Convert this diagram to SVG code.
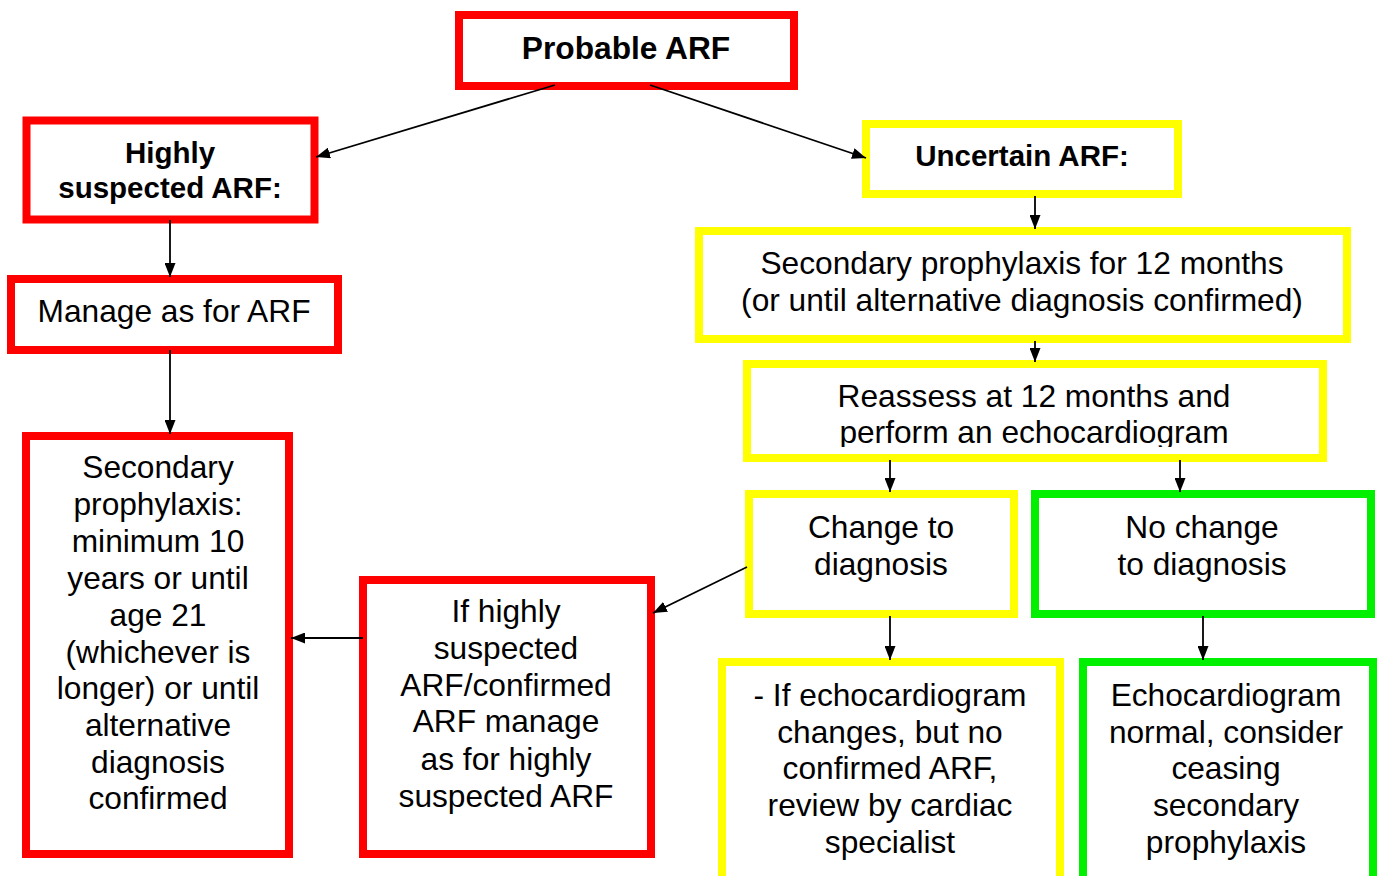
<svg xmlns="http://www.w3.org/2000/svg" width="1377" height="876" viewBox="0 0 1377 876">
<defs>
<style>
.box{fill:#fff;stroke-width:8}
.red{stroke:#ff0000}
.yel{stroke:#ffff00}
.grn{stroke:#00f000}
text{font-family:"Liberation Sans",Arial,sans-serif;font-size:31.7px;fill:#000;text-anchor:middle}
.b{font-weight:bold}
.s{font-size:29.5px}
.conn line{stroke:#000;stroke-width:1.8;marker-end:url(#ah)}
</style>
<marker id="ah" viewBox="0 0 14 11" refX="14" refY="5.5" markerWidth="14" markerHeight="11" markerUnits="userSpaceOnUse" orient="auto">
<path d="M0,0 L14,5.5 L0,11 z" fill="#000"/>
</marker>
<clipPath id="clipR"><rect x="740" y="360" width="600" height="87"/></clipPath>
</defs>
<rect width="1377" height="876" fill="#fff"/>

<g id="probable">
<rect class="box red" x="459" y="15" width="335" height="71"/>
<text class="b" x="626" y="59">Probable ARF</text>
</g>
<g id="highly">
<rect class="box red" x="26.5" y="120.5" width="288" height="99"/>
<text class="b s" x="170" y="163">Highly</text>
<text class="b s" x="170" y="198">suspected ARF:</text>
</g>
<g id="manage">
<rect class="box red" x="11" y="279" width="327" height="71"/>
<text x="174" y="322">Manage as for ARF</text>
</g>
<g id="secondary-left">
<rect class="box red" x="26" y="436" width="263" height="418"/>
<text x="158" y="478">Secondary</text>
<text x="158" y="515">prophylaxis:</text>
<text x="158" y="552">minimum 10</text>
<text x="158" y="589">years or until</text>
<text x="158" y="626">age 21</text>
<text x="158" y="663">(whichever is</text>
<text x="158" y="699">longer) or until</text>
<text x="158" y="736">alternative</text>
<text x="158" y="773">diagnosis</text>
<text x="158" y="809">confirmed</text>
</g>
<g id="ifhighly">
<rect class="box red" x="363" y="580" width="288" height="274"/>
<text x="506" y="622">If highly</text>
<text x="506" y="659">suspected</text>
<text x="506" y="696">ARF/confirmed</text>
<text x="506" y="732">ARF manage</text>
<text x="506" y="770">as for highly</text>
<text x="506" y="807">suspected ARF</text>
</g>
<g id="uncertain">
<rect class="box yel" x="866" y="124" width="312" height="70"/>
<text class="b s" x="1022" y="166">Uncertain ARF:</text>
</g>
<g id="sec12">
<rect class="box yel" x="699" y="231" width="648" height="108"/>
<text x="1022" y="274">Secondary prophylaxis for 12 months</text>
<text x="1022" y="311">(or until alternative diagnosis confirmed)</text>
</g>
<g id="reassess">
<rect class="box yel" x="747" y="364" width="576" height="94"/>
<g clip-path="url(#clipR)">
<text x="1034" y="407">Reassess at 12 months and</text>
<text x="1034" y="443">perform an echocardiogram</text>
</g>
</g>
<g id="change">
<rect class="box yel" x="749" y="494" width="265" height="120"/>
<text x="881" y="538">Change to</text>
<text x="881" y="575">diagnosis</text>
</g>
<g id="nochange">
<rect class="box grn" x="1035" y="494" width="336" height="120"/>
<text x="1202" y="538">No change</text>
<text x="1202" y="575">to diagnosis</text>
</g>
<g id="echo-changes">
<rect class="box yel" x="722" y="662" width="338" height="230"/>
<text x="890" y="706">- If echocardiogram</text>
<text x="890" y="743">changes, but no</text>
<text x="890" y="779">confirmed ARF,</text>
<text x="890" y="816">review by cardiac</text>
<text x="890" y="853">specialist</text>
</g>
<g id="echo-normal">
<rect class="box grn" x="1083" y="662" width="290" height="230"/>
<text x="1226" y="706">Echocardiogram</text>
<text x="1226" y="743">normal, consider</text>
<text x="1226" y="779">ceasing</text>
<text x="1226" y="816">secondary</text>
<text x="1226" y="853">prophylaxis</text>
</g>

<g id="connectors" class="conn">
<line x1="555" y1="85" x2="316" y2="157"/>
<line x1="650" y1="85" x2="866" y2="158"/>
<line x1="170" y1="220" x2="170" y2="277"/>
<line x1="170" y1="350" x2="170" y2="434"/>
<line x1="1035" y1="196" x2="1035" y2="229"/>
<line x1="1035" y1="341" x2="1035" y2="362"/>
<line x1="890" y1="460" x2="890" y2="492"/>
<line x1="1180" y1="460" x2="1180" y2="492"/>
<line x1="890" y1="616" x2="890" y2="660"/>
<line x1="1203" y1="616" x2="1203" y2="660"/>
<line x1="747" y1="567" x2="653" y2="613"/>
<line x1="363" y1="638" x2="291" y2="638"/>
</g>
</svg>
